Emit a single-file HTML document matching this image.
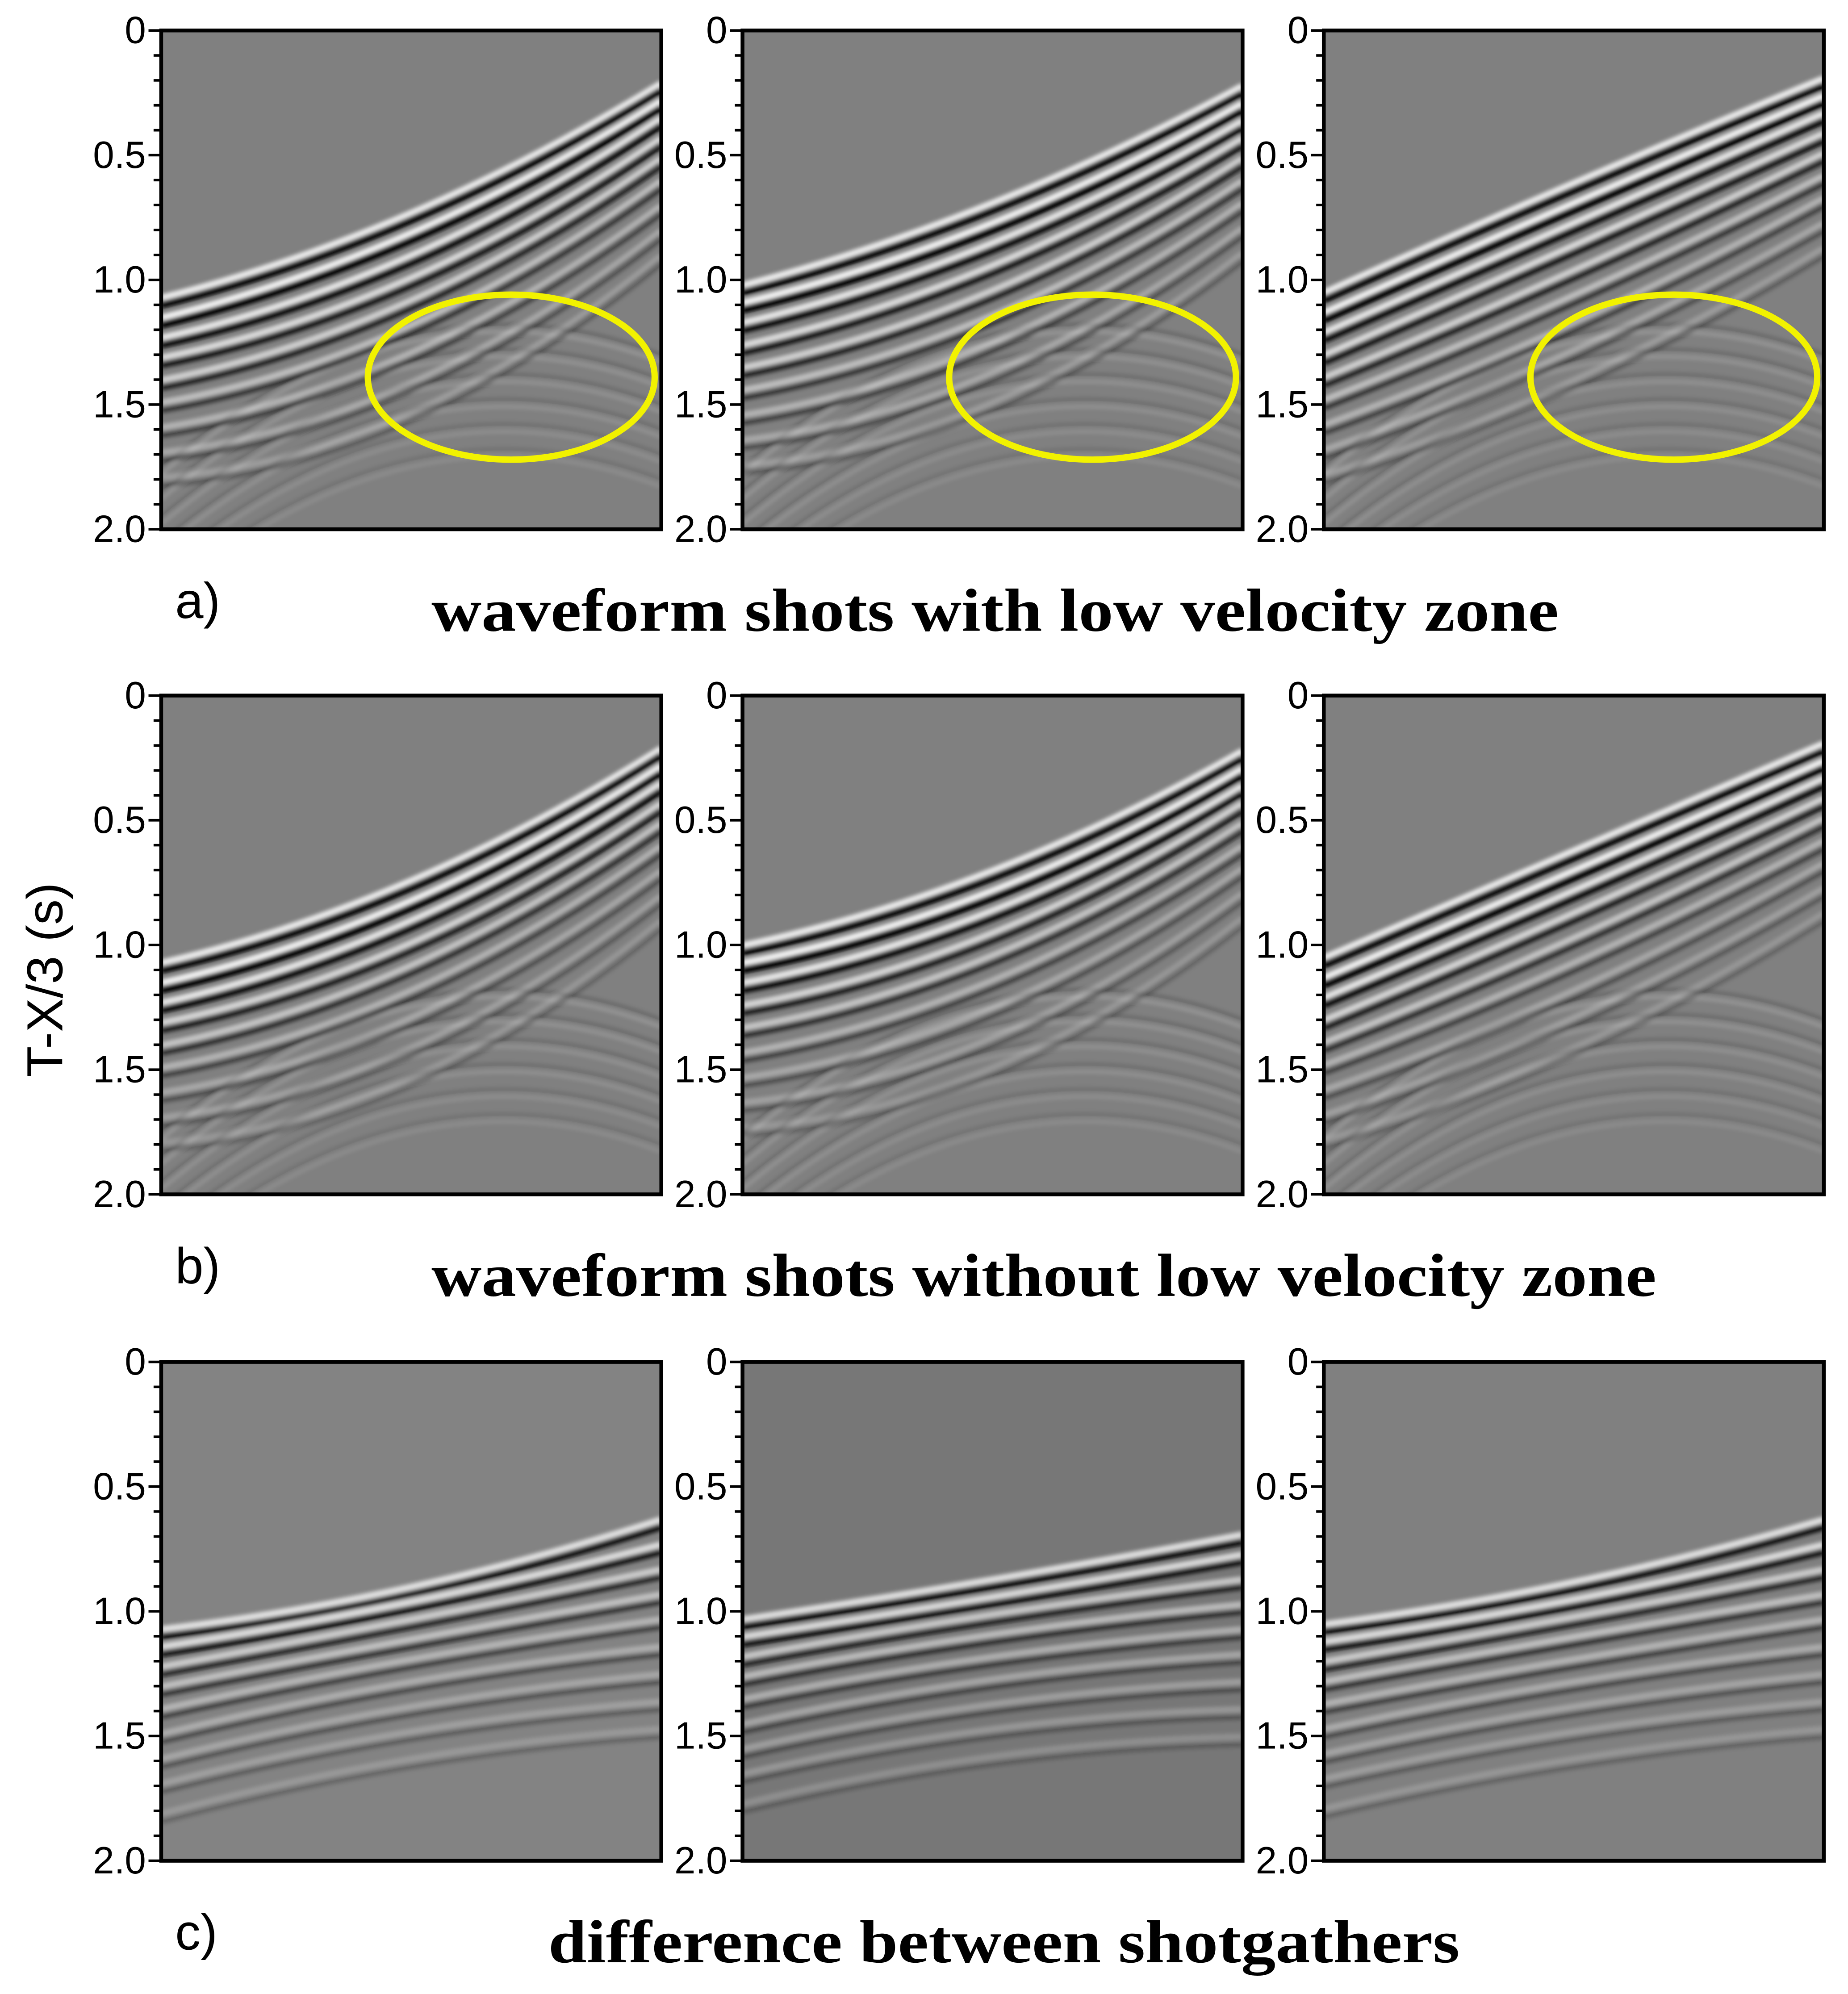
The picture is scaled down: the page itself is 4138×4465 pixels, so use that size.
<!DOCTYPE html>
<html><head><meta charset="utf-8"><style>
html,body{margin:0;padding:0;background:#fff;}
svg{display:block;}
</style></head><body>
<svg id="fig" xmlns="http://www.w3.org/2000/svg" width="4138" height="4465" viewBox="0 0 1456 1571" preserveAspectRatio="none">
<defs>
<filter id="blur" x="-5%" y="-5%" width="110%" height="110%"><feGaussianBlur stdDeviation="1.6"/></filter>
</defs>
<g id="panels"></g>
<text x="138" y="487" font-family="Liberation Sans, sans-serif" font-size="40">a)</text>
<text x="340" y="497" font-family="Liberation Serif, serif" font-weight="bold" font-size="48" textLength="888" lengthAdjust="spacingAndGlyphs">waveform shots with low velocity zone</text>
<text x="138" y="1011" font-family="Liberation Sans, sans-serif" font-size="40">b)</text>
<text x="340" y="1021" font-family="Liberation Serif, serif" font-weight="bold" font-size="48" textLength="965" lengthAdjust="spacingAndGlyphs">waveform shots without low velocity zone</text>
<text x="138" y="1536" font-family="Liberation Sans, sans-serif" font-size="40">c)</text>
<text x="432" y="1546" font-family="Liberation Serif, serif" font-weight="bold" font-size="48" textLength="718" lengthAdjust="spacingAndGlyphs">difference between shotgathers</text>
<text transform="translate(49,772) rotate(-90)" text-anchor="middle" font-family="Liberation Sans, sans-serif" font-size="40">T-X/3 (s)</text>
</svg>
<script>
// axis / layout
const panelX = [127, 585, 1043];
const rowY = [24, 548, 1073];
const PW = 394, PH = 393;
const tMax = 2.0;
const tickValues = [0, 0.5, 1.0, 1.5, 2.0];
const tickLabels = ["0", "0.5", "1.0", "1.5", "2.0"];

// event times (s) at left edge, center and right edge of each panel; amplitudes
// row a (with LVZ)
const a1Left = [1.10,1.18,1.26,1.34,1.43,1.52,1.62,1.72,1.82];
const a1Mid  = [0.76,0.84,0.93,1.02,1.11,1.21,1.32,1.44,1.56];
const a1Right= [0.24,0.31,0.38,0.46,0.54,0.63,0.73,0.83,0.93];
const a2Left = [1.05,1.12,1.20,1.29,1.38,1.47,1.57,1.67,1.77];
const a2Mid  = [0.72,0.80,0.88,0.97,1.07,1.17,1.28,1.40,1.52];
const a2Right= [0.25,0.32,0.39,0.46,0.54,0.63,0.72,0.82,0.92];
const a3Left = [1.08,1.16,1.24,1.33,1.42,1.51,1.61,1.71,1.81];
const a3Mid  = [0.64,0.72,0.80,0.89,0.99,1.09,1.20,1.31,1.43];
const a3Right= [0.22,0.29,0.36,0.44,0.52,0.61,0.70,0.80,0.90];
const rowAAmp = [0.95,1.0,0.9,0.8,0.7,0.55,0.45,0.35,0.25];
// row b (without LVZ)
const b1Left = [1.10,1.18,1.26,1.34,1.43,1.52,1.62,1.72,1.82];
const b1Mid  = [0.77,0.85,0.93,1.02,1.11,1.21,1.32,1.44,1.56];
const b1Right= [0.24,0.31,0.38,0.46,0.54,0.63,0.73,0.83,0.93];
const b2Left = [1.03,1.10,1.18,1.27,1.36,1.46,1.56,1.66,1.76];
const b2Mid  = [0.73,0.81,0.89,0.98,1.07,1.17,1.28,1.40,1.52];
const b2Right= [0.25,0.32,0.39,0.46,0.54,0.63,0.72,0.82,0.92];
const b3Left = [1.08,1.16,1.24,1.33,1.42,1.51,1.61,1.71,1.81];
const b3Mid  = [0.65,0.73,0.81,0.90,1.00,1.10,1.21,1.32,1.44];
const b3Right= [0.22,0.29,0.36,0.44,0.52,0.61,0.70,0.80,0.90];
const rowBAmp = [0.95,1.0,0.9,0.75,0.6,0.45,0.35,0.28,0.2];
// faint deeper arcs (rows a, b)
const arcLeft = [1.75,1.85,1.95,2.05,2.15,2.25];
const arcMid  = [1.22,1.32,1.42,1.52,1.62,1.72];
const arcRight= [1.30,1.40,1.50,1.60,1.70,1.80];
const arcAmp  = [0.35,0.32,0.3,0.28,0.25,0.22];
// row c (difference) - convex-up arcs
const c1Left = [1.10,1.17,1.25,1.33,1.42,1.52,1.62,1.72,1.84];
const c1Mid  = [0.93,0.99,1.06,1.14,1.22,1.31,1.41,1.51,1.62];
const c1Right= [0.66,0.76,0.86,0.96,1.06,1.17,1.28,1.39,1.50];
const c2Left = [1.06,1.13,1.21,1.29,1.38,1.48,1.58,1.68,1.80];
const c2Mid  = [0.90,0.97,1.04,1.12,1.21,1.30,1.40,1.50,1.61];
const c2Right= [0.72,0.80,0.90,1.00,1.10,1.20,1.31,1.42,1.53];
const c3Left = [1.08,1.15,1.23,1.31,1.40,1.50,1.60,1.70,1.82];
const c3Mid  = [0.91,0.98,1.05,1.13,1.22,1.31,1.41,1.51,1.62];
const c3Right= [0.66,0.76,0.86,0.96,1.06,1.17,1.28,1.39,1.50];
const rowCAmp = [0.85,0.8,0.65,0.55,0.45,0.38,0.32,0.26,0.2];
// LVZ ellipse (panel fraction x, time)
const lvzCenterFrac = [0.7, 0.7, 0.7];
const lvzCenterT = [1.39, 1.39, 1.39];

const rows = [
  {key:"a", bg:["#808080","#808080","#808080"], panels:[[a1Left,a1Mid,a1Right],[a2Left,a2Mid,a2Right],[a3Left,a3Mid,a3Right]], amp:rowAAmp, arcs:true, lvz:true},
  {key:"b", bg:["#808080","#808080","#808080"], panels:[[b1Left,b1Mid,b1Right],[b2Left,b2Mid,b2Right],[b3Left,b3Mid,b3Right]], amp:rowBAmp, arcs:true, lvz:false},
  {key:"c", bg:["#838383","#777777","#808080"], panels:[[c1Left,c1Mid,c1Right],[c2Left,c2Mid,c2Right],[c3Left,c3Mid,c3Right]], amp:rowCAmp, arcs:false, lvz:false}
];

const NS = "http://www.w3.org/2000/svg";
const root = document.getElementById("panels");
function yScale(r, t){ return rowY[r] + t / tMax * PH; }
function xScale(c, f){ return panelX[c] + f * PW; }
function mk(tag, attrs){ const e = document.createElementNS(NS, tag); for (const k in attrs) e.setAttribute(k, attrs[k]); return e; }
function curve(r, c, tl, tm, tr){
  const x0 = xScale(c,0), x2 = xScale(c,1), xm = xScale(c,0.5);
  const y0 = yScale(r,tl), y2 = yScale(r,tr), ym = yScale(r,tm);
  const cx = 2*xm - (x0+x2)/2, cy = 2*ym - (y0+y2)/2;
  return "M"+x0+","+y0+" Q"+cx+","+cy+" "+x2+","+y2;
}

rows.forEach((row, r) => {
  row.panels.forEach((ev, c) => {
    const g = mk("g", {});
    
    
    root.appendChild(g);
    const clipId = "clip" + r + c;
    const cp = mk("clipPath", {id: clipId});
    cp.appendChild(mk("rect", {x: panelX[c], y: rowY[r], width: PW, height: PH}));
    g.appendChild(cp);
    const bg = mk("rect", {x: panelX[c], y: rowY[r], width: PW, height: PH, fill: row.bg[c]});
    
    
    g.appendChild(bg);
    const wav = mk("g", {"clip-path": "url(#"+clipId+")"});
    g.appendChild(wav);
    const inner = mk("g", {filter: "url(#blur)"});
    wav.appendChild(inner);
    if (row.arcs) {
      for (let i = 0; i < arcLeft.length; i++) {
        const dk = mk("path", {d: curve(r,c,arcLeft[i],arcMid[i],arcRight[i]), stroke:"#000", "stroke-opacity":arcAmp[i]*0.5, "stroke-width":3, fill:"none"});
        
        
        inner.appendChild(dk);
        const lt = mk("path", {d: curve(r,c,arcLeft[i]+0.03,arcMid[i]+0.03,arcRight[i]+0.03), stroke:"#fff", "stroke-opacity":arcAmp[i]*0.5, "stroke-width":3, fill:"none"});
        
        
        inner.appendChild(lt);
      }
    }
    const [L, M, R] = ev;
    for (let i = 0; i < L.length; i++) {
      const a = row.amp[i];
      const wp = mk("path", {d: curve(r,c,L[i]-0.028,M[i]-0.028,R[i]-0.028), stroke:"#fff", "stroke-opacity":a*0.9, "stroke-width":5, fill:"none"});
      
      
      inner.appendChild(wp);
      const bp = mk("path", {d: curve(r,c,L[i],M[i],R[i]), stroke:"#000", "stroke-opacity":a, "stroke-width":6, fill:"none"});
      
      
      inner.appendChild(bp);
    }
    const frame = mk("rect", {x: panelX[c], y: rowY[r], width: PW, height: PH, fill:"none", stroke:"#000", "stroke-width":3});
    
    
    g.appendChild(frame);
    for (let k = 0; k <= 20; k++) {
      const t = k * 0.1;
      const major = (k % 5 === 0);
      const y = yScale(r, t);
      const tk = mk("line", {x1: panelX[c] - (major ? 10 : 6), x2: panelX[c], y1: y, y2: y, stroke:"#000", "stroke-width":2});
      
      
      g.appendChild(tk);
    }
    tickValues.forEach((v, i) => {
      const tx = mk("text", {x: panelX[c] - 12, y: yScale(r, v) + 10, "text-anchor":"end", "font-family":"Liberation Sans, sans-serif", "font-size":30});
      tx.textContent = tickLabels[i];
      
      
      g.appendChild(tx);
    });
    if (row.lvz) {
      const el = mk("ellipse", {cx: xScale(c, lvzCenterFrac[c]), cy: yScale(r, lvzCenterT[c]), rx: 113, ry: 65, fill:"none", stroke:"#f2f200", "stroke-width":5});
      
      
      g.appendChild(el);
    }
  });
});
</script>
</body></html>
